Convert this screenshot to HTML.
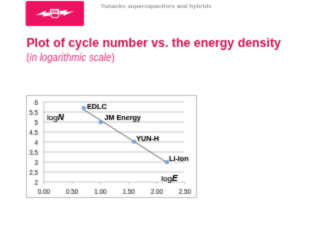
<!DOCTYPE html>
<html><head><meta charset="utf-8">
<style>
html,body{margin:0;padding:0;background:#fff;width:320px;height:240px;overflow:hidden;}
svg{position:absolute;left:0;top:0;}
text{font-family:"Liberation Sans",sans-serif;}
</style></head><body>
<svg width="320" height="240" viewBox="0 0 320 240">
<defs><filter id="bl" x="0" y="0" width="320" height="240" filterUnits="userSpaceOnUse" color-interpolation-filters="sRGB"><feConvolveMatrix order="3" kernelMatrix="1 2 1 2 16 2 1 2 1" divisor="28" edgeMode="duplicate"/></filter></defs>
<rect width="320" height="240" fill="#fff"/>
<g filter="url(#bl)">
<!-- logo -->
<rect x="25.6" y="1" width="58.4" height="25" rx="1.5" fill="#ec1161"/>
<g transform="translate(26,1)">
<g fill="#fff">
<path d="M33.7 10.1 L41 9.1 L40.2 11.3 L48.3 10.1 L37.3 14.9 L38.4 13.2 L33.7 13.4 Z"/>
<path d="M24.2 14.6 L16.7 15.6 L17.5 13.6 L9.5 14.2 L20.2 9.5 L19.2 11.7 L24.2 11.5 Z"/>
</g>
<rect x="24.4" y="8.4" width="8.2" height="4.1" fill="#fff" fill-opacity="0.55" stroke="#fff" stroke-width="0.9"/>
<path d="M26.3 9 V12 M28.5 9 V12 M30.4 9 V12" stroke="#ec1161" stroke-width="0.7" stroke-opacity="0.55"/>
<path d="M25.2 12.5 V15 Q25.2 16.6 26.8 16.6 H30.8 Q32.6 16.6 32.6 14.8 V8.4" fill="none" stroke="#fff" stroke-width="1"/>
</g>
<text x="100.4" y="8" font-size="6.17" font-weight="bold" fill="#9a9a9a">Yunasko supercapacitors and hybrids</text>
<text x="26.4" y="46.9" font-size="12.35" font-weight="bold" fill="#ca1150">Plot of cycle number vs. the energy density</text>
<text x="26.3" y="61.3" font-size="10" fill="#de2f7a" textLength="88.3" lengthAdjust="spacingAndGlyphs">(<tspan font-style="italic">in logarithmic scale</tspan>)</text>

<!-- chart -->
<rect x="26.5" y="95.5" width="170" height="102" fill="#fff" stroke="#c0c0c0" stroke-width="1"/>
<g stroke="#c9c9c9" stroke-width="1">
<line x1="42.5" y1="102.0" x2="184.5" y2="102.0"/>
<line x1="42.5" y1="112.0" x2="184.5" y2="112.0"/>
<line x1="42.5" y1="122.0" x2="184.5" y2="122.0"/>
<line x1="42.5" y1="132.0" x2="184.5" y2="132.0"/>
<line x1="42.5" y1="142.0" x2="184.5" y2="142.0"/>
<line x1="42.5" y1="152.0" x2="184.5" y2="152.0"/>
<line x1="42.5" y1="162.0" x2="184.5" y2="162.0"/>
<line x1="42.5" y1="172.0" x2="184.5" y2="172.0"/>
<line x1="42.5" y1="182.0" x2="184.5" y2="182.0"/>
<line x1="43.9" y1="102" x2="43.9" y2="184.4"/><line x1="72.2" y1="182" x2="72.2" y2="184.4"/><line x1="100.4" y1="182" x2="100.4" y2="184.4"/><line x1="128.6" y1="182" x2="128.6" y2="184.4"/><line x1="156.8" y1="182" x2="156.8" y2="184.4"/><line x1="184.5" y1="182" x2="184.5" y2="184.4"/>
</g>
<g font-size="6.3" fill="#404040" stroke="#404040" stroke-width="0.15" text-anchor="end">
<text x="38" y="105.4">6</text>
<text x="38" y="115.4">5.5</text>
<text x="38" y="125.4">5</text>
<text x="38" y="135.4">4.5</text>
<text x="38" y="145.4">4</text>
<text x="38" y="155.4">3.5</text>
<text x="38" y="165.4">3</text>
<text x="38" y="175.4">2.5</text>
<text x="38" y="185.4">2</text>
</g>
<g font-size="6.3" fill="#404040" stroke="#404040" stroke-width="0.15" text-anchor="middle">
<text x="44" y="193.8">0.00</text>
<text x="72.2" y="193.8">0.50</text>
<text x="100.4" y="193.8">1.00</text>
<text x="128.6" y="193.8">1.50</text>
<text x="156.8" y="193.8">2.00</text>
<text x="185" y="193.8">2.50</text>
</g>
<line x1="83.5" y1="109.5" x2="167" y2="162.5" stroke="#5a5a5a" stroke-width="0.9"/>
<g fill="#74a8e0" stroke="#4f82c0" stroke-width="0.5">
<circle cx="83.7" cy="108" r="1.8"/>
<circle cx="100.7" cy="122.2" r="1.8"/>
<circle cx="134.1" cy="141.7" r="1.8"/>
<circle cx="166.9" cy="162.1" r="1.8"/>
</g>
<g font-size="7.2" font-weight="bold" fill="#000" stroke="#000" stroke-width="0.1">
<text x="87" y="109.4">EDLC</text>
<text x="104.5" y="120.4">JM Energy</text>
<text x="136.2" y="140.9">YUN-H</text>
<text x="169" y="161.4">Li-ion</text>
</g>
<text x="46.9" y="119.9" font-size="8.1" fill="#000" stroke="#000" stroke-width="0.12">log<tspan font-weight="bold" font-style="italic" font-size="8.6">N</tspan></text>
<text x="161.3" y="180.7" font-size="8.1" fill="#000" stroke="#000" stroke-width="0.12">log<tspan font-weight="bold" font-style="italic" font-size="8.6">E</tspan></text>
</g>
</svg>
</body></html>
